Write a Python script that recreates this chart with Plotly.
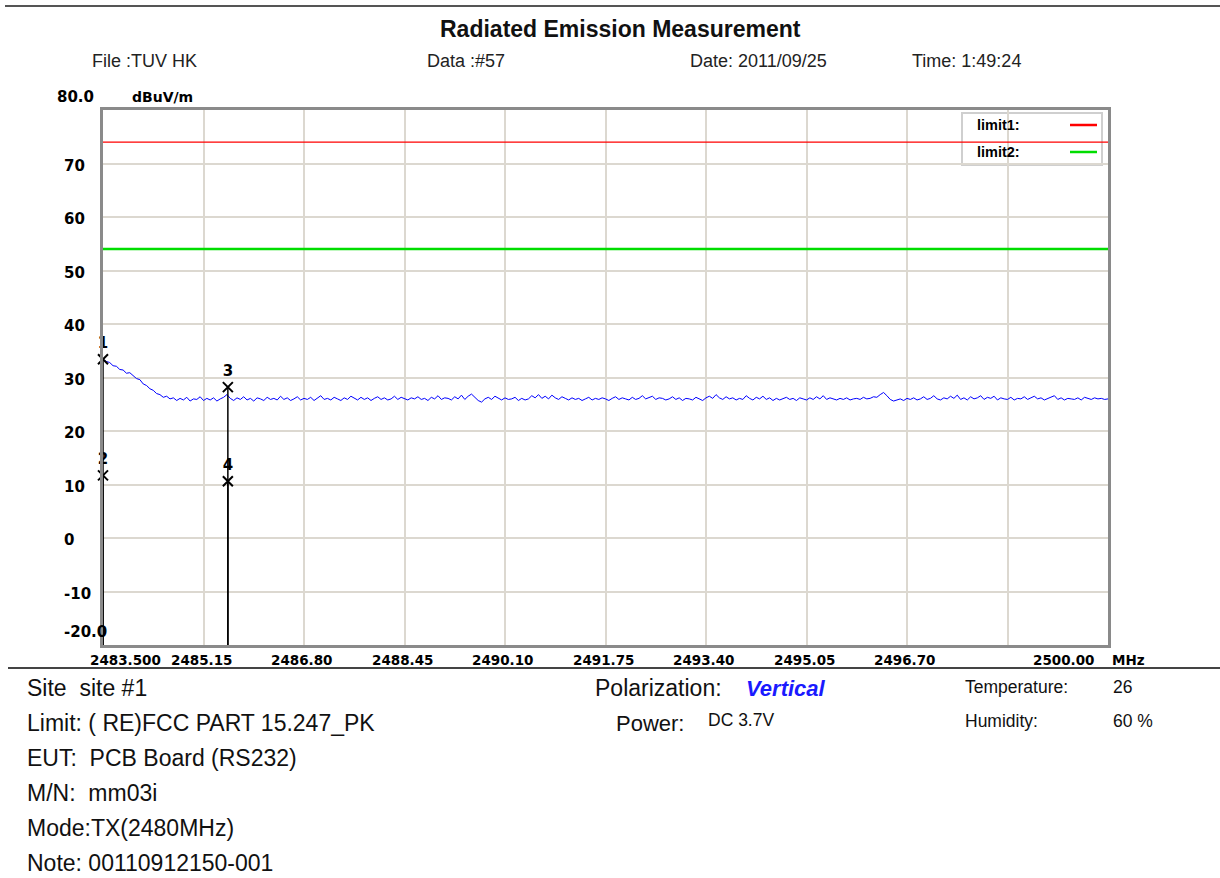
import numpy as np
import plotly.graph_objects as go

# ---------------- data ----------------
FREQ_START = 2483.5
FREQ_STOP = 2500.0
tick_freqs = [2483.5, 2485.15, 2486.80, 2488.45, 2490.10, 2491.75, 2493.40,
              2495.05, 2496.70, 2498.35, 2500.00]
tick_labels = ["2483.500", "2485.15", "2486.80", "2488.45", "2490.10", "2491.75",
               "2493.40", "2495.05", "2496.70", "", "2500.00"]
y_ticks = [-20, -10, 0, 10, 20, 30, 40, 50, 60, 70, 80]
y_tick_labels = ["-20.0", "-10", "0", "10", "20", "30", "40", "50", "60", "70", "80.0"]

limit1 = 74.0
limit2 = 54.0

level = [
    33.4, 33.0, 32.8, 32.2, 32.1, 31.5, 31.4, 30.8, 30.9, 30.3,
    29.8, 29.6, 28.8, 28.5, 27.9, 27.6, 27.0, 26.8, 26.3, 26.5, 26.0,
    26.2, 25.7, 26.1, 25.8, 26.3, 25.6, 26.0, 25.9, 26.4, 25.7,
    26.1, 25.8, 26.2, 25.6, 26.0, 26.3, 26.8, 26.1, 25.7, 26.2,
    25.9, 26.4, 25.8, 26.1, 25.6, 26.2, 26.0, 25.7, 26.3, 25.9,
    26.1, 25.8, 26.5, 25.9, 26.2, 25.7, 26.0, 26.4, 25.8, 26.1,
    25.9, 26.3, 25.7, 26.2, 26.6, 25.9, 26.1, 25.8, 26.3, 26.0,
    25.7, 26.2, 25.9, 26.5, 26.1, 25.8, 26.3, 25.9, 26.2, 25.7,
    26.1, 26.4, 25.9, 26.2, 25.8, 26.0, 26.5, 25.9, 26.3, 26.1,
    25.8, 26.2, 26.0, 26.4, 25.9, 26.1, 25.7, 26.3, 26.0, 26.6,
    25.9, 26.2, 26.1, 25.8, 26.4, 26.0, 26.7, 25.9, 26.5, 26.9,
    26.2, 25.7, 25.4, 26.0, 26.3, 25.9, 26.5, 26.1, 25.8, 26.2,
    25.9, 26.0, 26.3, 25.7, 26.1, 25.8, 26.0, 26.6, 26.2, 26.8,
    26.1, 26.5, 26.0, 26.7, 26.2, 25.9, 26.4, 26.1, 25.8, 26.2,
    25.9, 26.1, 25.7, 26.0, 26.3, 25.8, 26.1, 25.9, 26.2, 26.0,
    25.7, 26.1, 26.4, 25.9, 26.2, 26.0, 25.8, 26.3, 25.9, 26.1,
    26.6, 26.0, 26.3, 26.5, 25.9, 26.2, 26.1, 25.8, 26.0, 26.4,
    25.9, 26.2, 25.7, 26.1, 26.0, 25.8, 26.3, 26.0, 25.7, 26.2,
    26.5, 26.1, 26.8, 26.2, 25.9, 26.4, 26.0, 26.2, 25.8, 26.1,
    25.9, 26.6, 26.1, 25.8, 26.3, 26.0, 26.5, 25.9, 26.2, 25.7,
    26.1, 25.8, 26.0, 26.3, 25.9, 26.1, 25.7, 26.2, 26.0, 25.8,
    26.2, 25.9, 26.4, 26.0, 26.6, 25.9, 26.2, 26.0, 25.8, 26.1,
    25.9, 26.2, 25.8, 26.0, 26.1, 25.9, 26.3, 26.0, 26.1, 26.4,
    26.3, 26.8, 27.2, 26.6, 25.9, 25.6, 25.8, 26.0, 25.7, 26.1,
    25.9, 26.2, 25.8, 26.0, 26.4, 25.9, 26.1, 26.6, 26.0, 25.8,
    26.2, 26.0, 26.5, 26.1, 26.7, 25.9, 26.2, 25.8, 26.4, 26.0,
    26.2, 26.6, 25.9, 26.3, 26.1, 26.5, 25.8, 26.2, 26.0, 25.9,
    26.3, 25.8, 26.1, 26.0, 26.4, 25.9, 26.2, 26.5, 26.0, 26.2,
    25.8, 26.1, 26.4, 26.6, 25.9, 26.2, 25.8, 26.1, 26.0, 25.9,
    26.2, 25.8, 26.3, 26.1, 25.9, 26.2, 26.0, 26.1, 25.9, 26.0,
]

marker_nums = ["1", "2", "3", "4"]
marker_freq = [2483.5, 2483.5, 2485.55, 2485.55]
marker_level = [33.4, 11.7, 28.2, 10.6]

title_text = "Radiated Emission Measurement"
header_texts = ["File :TUV HK", "Data :#57", "Date: 2011/09/25", "Time: 1:49:24"]
info_left = ["Site  site #1", "Limit: ( RE)FCC PART 15.247_PK", "EUT:  PCB Board (RS232)",
             "M/N:  mm03i", "Mode:TX(2480MHz)", "Note: 00110912150-001"]

# ---------------- layout geometry (pixels) ----------------
W, H = 1220, 878
L, R, T, B = 103, 1108, 110, 645


def px(x):
    return (x - L) / (R - L)


def py(y):
    return (B - y) / (B - T)


freq = np.linspace(FREQ_START, FREQ_STOP, len(level))

ARIAL = "Arial, Liberation Sans, sans-serif"
BOLDTICK = "DejaVu Sans, sans-serif"

fig = go.Figure()

# limit lines
fig.add_trace(go.Scatter(x=[FREQ_START, FREQ_STOP], y=[limit1, limit1], mode="lines",
                         line=dict(color="#ff0000", width=1.3), hoverinfo="skip"))
fig.add_trace(go.Scatter(x=[FREQ_START, FREQ_STOP], y=[limit2, limit2], mode="lines",
                         line=dict(color="#00dd00", width=2.5), hoverinfo="skip"))

# measured trace
fig.add_trace(go.Scatter(x=freq, y=level, mode="lines",
                         line=dict(color="#0000ff", width=1)))

# marker stems
for f, v in zip(marker_freq, marker_level):
    fig.add_trace(go.Scatter(x=[f, f], y=[v, -20], mode="lines",
                             line=dict(color="#000000", width=1.5), hoverinfo="skip"))

# markers
fig.add_trace(go.Scatter(x=marker_freq, y=marker_level, mode="markers+text",
                         text=marker_nums, textposition="top center",
                         textfont=dict(family=BOLDTICK, size=15, color="#000000", weight="bold"),
                         marker=dict(symbol="x-thin", size=10,
                                     line=dict(color="#000000", width=2)),
                         cliponaxis=False))

annotations = []

# title and header
annotations.append(dict(x=px(620), y=py(29), xref="paper", yref="paper", text="<b>%s</b>" % title_text,
                        showarrow=False, xanchor="center", yanchor="middle",
                        font=dict(family=ARIAL, size=23, color="#111111")))
for t, xp in zip(header_texts, [90, 425, 688, 910]):
    annotations.append(dict(x=px(xp), y=py(61), xref="paper", yref="paper", text=t,
                            showarrow=False, xanchor="left", yanchor="middle",
                            font=dict(family=ARIAL, size=18, color="#222222")))

# y tick labels
for v, lab in zip(y_ticks, y_tick_labels):
    xpos = 62
    if v == 80:
        shift = 13
        xpos = 55
    elif v == -20:
        shift = 13
    else:
        shift = -2
    annotations.append(dict(x=px(xpos), y=v, xref="paper", yref="y", text="<b>%s</b>" % lab,
                            showarrow=False, xanchor="left", yanchor="middle", yshift=shift,
                            font=dict(family=BOLDTICK, size=15, color="#000000")))
annotations.append(dict(x=px(130), y=py(97), xref="paper", yref="paper", text="<b>dBuV/m</b>",
                        showarrow=False, xanchor="left", yanchor="middle",
                        font=dict(family=BOLDTICK, size=14, color="#000000")))

# x tick labels
for f, lab in zip(tick_freqs, tick_labels):
    if not lab:
        continue
    if f == FREQ_START:
        a = dict(xanchor="left", xshift=-15)
    elif f == FREQ_STOP:
        a = dict(xanchor="right", xshift=-11)
    else:
        a = dict(xanchor="center", xshift=-2)
    annotations.append(dict(x=f, y=py(660), xref="x", yref="paper", text="<b>%s</b>" % lab,
                            showarrow=False, yanchor="middle",
                            font=dict(family=BOLDTICK, size=13.5, color="#000000"), **a))
annotations.append(dict(x=px(1110), y=py(660), xref="paper", yref="paper", text="<b>MHz</b>",
                        showarrow=False, xanchor="left", yanchor="middle",
                        font=dict(family=BOLDTICK, size=13.5, color="#000000")))

# legend text
for lab, yy in zip(["limit1:", "limit2:"], [125, 152]):
    annotations.append(dict(x=px(975), y=py(yy), xref="paper", yref="paper", text="<b>%s</b>" % lab,
                            showarrow=False, xanchor="left", yanchor="middle",
                            font=dict(family=ARIAL, size=14.5, color="#000000")))

# bottom info
for i, t in enumerate(info_left):
    annotations.append(dict(x=px(25), y=py(688 + 35 * i), xref="paper", yref="paper", text=t,
                            showarrow=False, xanchor="left", yanchor="middle",
                            font=dict(family=ARIAL, size=23, color="#111111")))
annotations.append(dict(x=px(593), y=py(688), xref="paper", yref="paper", text="Polarization:",
                        showarrow=False, xanchor="left", yanchor="middle",
                        font=dict(family=ARIAL, size=23, color="#111111")))
annotations.append(dict(x=px(744), y=py(688), xref="paper", yref="paper", text="<b><i>Vertical</i></b>",
                        showarrow=False, xanchor="left", yanchor="middle",
                        font=dict(family=ARIAL, size=22, color="#1a1aff")))
annotations.append(dict(x=px(614), y=py(723), xref="paper", yref="paper", text="Power:",
                        showarrow=False, xanchor="left", yanchor="middle",
                        font=dict(family=ARIAL, size=22, color="#111111")))
annotations.append(dict(x=px(706), y=py(720), xref="paper", yref="paper", text="DC 3.7V",
                        showarrow=False, xanchor="left", yanchor="middle",
                        font=dict(family=ARIAL, size=17.5, color="#111111")))
for t, xx, yy in [("Temperature:", 963, 687), ("26", 1111, 687),
                  ("Humidity:", 963, 721), ("60 %", 1111, 721)]:
    annotations.append(dict(x=px(xx), y=py(yy), xref="paper", yref="paper", text=t,
                            showarrow=False, xanchor="left", yanchor="middle",
                            font=dict(family=ARIAL, size=17.5, color="#111111")))

shapes = [
    # top rule
    dict(type="line", xref="paper", yref="paper", x0=px(5), x1=px(1220), y0=py(6), y1=py(6),
         line=dict(color="#555555", width=2)),
    # bottom rule
    dict(type="line", xref="paper", yref="paper", x0=px(8), x1=px(1220), y0=py(668), y1=py(668),
         line=dict(color="#444444", width=2)),
    # legend box
    dict(type="rect", xref="paper", yref="paper", x0=px(962), x1=px(1102), y0=py(165), y1=py(113),
         fillcolor="#ffffff", line=dict(color="#cfcfcf", width=2), layer="between"),
    dict(type="line", xref="paper", yref="paper", x0=px(1070), x1=px(1097), y0=py(125), y1=py(125),
         line=dict(color="#ff0000", width=2.5)),
    dict(type="line", xref="paper", yref="paper", x0=px(1070), x1=px(1097), y0=py(152), y1=py(152),
         line=dict(color="#00dd00", width=2.5)),
]

fig.update_layout(
    width=W, height=H,
    margin=dict(l=L, r=W - R, t=T, b=H - B, pad=0),
    paper_bgcolor="#ffffff", plot_bgcolor="#ffffff",
    showlegend=False,
    annotations=annotations,
    shapes=shapes,
    xaxis=dict(range=[FREQ_START, FREQ_STOP], tickvals=tick_freqs, showticklabels=False,
               showgrid=True, gridcolor="#dcd8d0", gridwidth=2, zeroline=False,
               showline=True, linecolor="#8a8a8a", linewidth=3, mirror=True, ticks=""),
    yaxis=dict(range=[-20, 80], tickvals=y_ticks, showticklabels=False,
               showgrid=True, gridcolor="#dcd8d0", gridwidth=2, zeroline=False,
               showline=True, linecolor="#8a8a8a", linewidth=3, mirror=True, ticks=""),
)

fig.write_html("out.html", config={"displayModeBar": False},
               post_script="document.body.style.margin='0px';")
